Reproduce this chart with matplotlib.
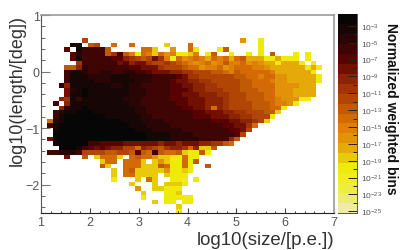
import matplotlib
matplotlib.use("Agg")
import matplotlib.pyplot as plt
import numpy as np
from matplotlib.colors import BoundaryNorm, ListedColormap
from matplotlib.ticker import FixedLocator, MultipleLocator, NullFormatter

plt.rcParams["font.family"] = ["Liberation Sans", "DejaVu Sans"]
plt.rcParams["mathtext.fontset"] = "custom"
plt.rcParams["mathtext.rm"] = "Liberation Sans"
plt.rcParams["mathtext.default"] = "regular"
plt.rcParams["axes.unicode_minus"] = True

# one char per cell (a shade code, see shade_band), '.' is empty
level_rows = [
    ".......a.. .......... .......... ....e..g..",
    ".....11.ba ..c..c.... .f...c.... .......g..",
    "....5.1333 4b.....ccf ..e..cg... gb.....g..",
    ".....52334 4b84bdgcdf cedggfd.gb ..g..g.g.b ...g.g....",
    ".....51344 4455789b96 8dhcedcdic dcicbiiigg iggg.g....",
    "......8334 434657668a 98abcdedce dbddcedeii giiig.g...",
    "....bb7244 4333455666 89aabccedd cedcccddei iiiiigig..",
    "....411233 2233223356 6677889aab bcdbcccccd iiiiiig...",
    "....311122 2211122223 3345688999 aaabbccdcc eeiiiiig..",
    "....311112 2211112223 3456677889 99aabbcccd eeiiiiig..",
    "...2711111 1122122334 4455667788 99aabbcccc eeeeiii...",
    "....621011 1111122234 4455567788 899abbbccc eeeiiii...",
    "....611011 1111122234 4455666777 889aabbbcc eeeiiii...",
    "...7813111 1111222344 4455566677 789aabbbcc deeegg....",
    "..4.711111 1111122334 4445566677 789aaabbbc ddeg......",
    "...7211011 1111112234 344455667c 789aaabbbc cg........",
    "..32110001 1111112233 3344445566 6778899abb f.........",
    "..31000000 0111111223 3334445556 667788999g",
    ".c21000000 0000111222 2333344445 5566778af.",
    ".410000000 0000011122 2233333444 455668c...",
    "..10000000 0000001112 2222333334 445569....",
    "..00000000 0000000011 1122223333 3345a.....",
    ".600000000 0000000011 1122222333 347b......",
    "..10000033 5555666666 7667666778 8bc.......",
    "...0001356 5677aac789 b8778c7ffb",
    ".332223aaa abbaab5bc4 bccbfggbg.",
    "....6..b.f cccf.cbcce ffggcgg...",
    ".......... fcc.cccf.f efggcgb...",
    ".......... bf..cccfff bcggcg..b.",
    ".......... ..f.cbffff feggfg....",
    ".......... ..f.ccffff .fggg.....",
    ".......... ..g...f.cf ..ggh.g...",
    ".......... .....f...f .fffg.....",
    ".......... ......e..f fggg......",
    ".......... .......f.. .ggf......",
    ".......... .......g.. .ggggg....",
    ".......... .........f .gg.gg....",
    ".......... .......... ...f......",
    ".......... .......... ...g......",
]
shade_band = {"0": 0, "1": 1, "2": 2, "3": 3, "4": 3, "5": 4, "6": 5, "7": 6, "8": 7,
              "9": 8, "a": 8, "b": 9, "c": 10, "d": 11, "e": 12, "i": 13, "f": 14,
              "g": 15, "h": 16}

# top of the colour bar first
band_colors = [
    "#060606", "#160606", "#2a0505", "#3f0404", "#5a0202",
    "#701002", "#8a2403", "#a03404", "#b04506", "#c05a05",
    "#d46a06", "#dd7f08", "#e29208", "#e5aa08", "#e8ca08",
    "#f0ea08", "#f0ec20", "#eeec40", "#eeec70", "#eeeca8",
]

size_edges = np.linspace(1, 7, 51)
length_top = 0.5876
length_step = 0.0792
length_edges = length_top - length_step * np.arange(len(level_rows) + 1)

cbar_top = -1.6
cbar_bottom = -25.2
band_edges = np.linspace(cbar_top, cbar_bottom, len(band_colors) + 1)
band_mid = 0.5 * (band_edges[:-1] + band_edges[1:])

cells = np.full((len(level_rows), 50), np.nan)
for k, row in enumerate(level_rows):
    row = row.replace(" ", "").ljust(50, ".")
    for i, c in enumerate(row):
        if c != ".":
            cells[k, i] = 10.0 ** band_mid[shade_band[c]]

cmap = ListedColormap(band_colors[::-1])
bounds = 10.0 ** band_edges[::-1]
norm = BoundaryNorm(bounds, cmap.N)

W, H = 403, 251
fig = plt.figure(figsize=(W / 100, H / 100), dpi=100)
ax = fig.add_axes([41 / W, 1 - 214 / H, 293 / W, 198 / H])
ax.pcolormesh(size_edges, length_edges, cells, cmap=cmap, norm=norm, antialiased=False)
ax.set_xlim(1, 7)
ax.set_ylim(-2.5, 1)

grey = "#555555"
ax.xaxis.set_major_locator(MultipleLocator(1))
ax.xaxis.set_minor_locator(MultipleLocator(0.2))
ax.yaxis.set_major_locator(MultipleLocator(1))
ax.yaxis.set_minor_locator(MultipleLocator(0.2))
ax.tick_params(axis="x", which="major", direction="in", length=3.6, width=0.8, color="#444444",
               labelsize=9, labelcolor=grey, pad=2)
ax.tick_params(axis="x", which="minor", direction="in", length=1.8, width=0.7, color="#333333")
ax.tick_params(axis="y", which="major", direction="in", length=6.5, width=0.8, color="#777777",
               labelsize=9, labelcolor=grey, pad=1)
ax.tick_params(axis="y", which="minor", direction="in", length=3.2, width=0.7, color="#666666")
for side, col, lw in [("top", "#999999", 1.2), ("right", "#aaaaaa", 1.5),
                      ("left", "#555555", 0.8), ("bottom", "#222222", 0.8)]:
    ax.spines[side].set_color(col)
    ax.spines[side].set_linewidth(lw)

fig.text(334 / W, 1 - 241 / H, "log10(size/[p.e.])", ha="right", va="center",
         fontsize=13.4, color="#333333")
fig.text(17 / W, 1 - 15 / H, "log10(length/[deg])", rotation=90, ha="center", va="top",
         fontsize=13, color="#333333")

cax = fig.add_axes([338 / W, 1 - 214 / H, 18.5 / W, 199 / H])
cax.set_yscale("log")
cax.pcolormesh([0, 1], bounds, np.array(10.0 ** band_mid[::-1]).reshape(-1, 1),
               cmap=cmap, norm=norm, antialiased=False)
cax.set_xlim(0, 1)
cax.set_ylim(bounds[0], bounds[-1])
cax.set_xticks([])
cbar_exps = np.arange(-25, -2, 2)
cax.yaxis.set_major_locator(FixedLocator(10.0 ** cbar_exps))
cax.yaxis.set_minor_locator(FixedLocator(10.0 ** np.arange(-24, -2, 2)))
cax.yaxis.set_minor_formatter(NullFormatter())
cax.set_yticklabels([f"$10^{{{e}}}$" for e in cbar_exps])
cax.yaxis.tick_right()
cax.tick_params(axis="y", which="major", direction="in", length=6.5, width=0.7, color="#222222",
                labelsize=6, labelcolor=grey, pad=3)
cax.tick_params(axis="y", which="minor", direction="in", length=3.2, width=0.7, color="#222222")
for side in ["top", "left"]:
    cax.spines[side].set_visible(False)
for side in ["right", "bottom"]:
    cax.spines[side].set_color("#555555")
    cax.spines[side].set_linewidth(0.7)

fig.text(391 / W, 1 - 109 / H, "Normalized weighted bins", rotation=-90, ha="center", va="center",
         fontsize=10, fontweight="bold", color="#111111")

fig.savefig("out.png", dpi=100)
